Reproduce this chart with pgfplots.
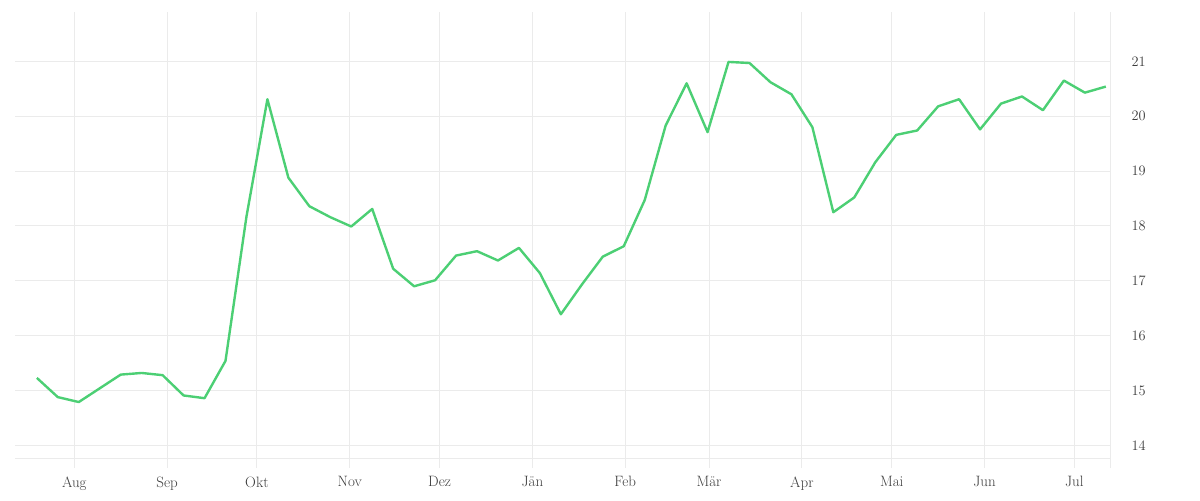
\documentclass[border=0pt]{standalone}
\usepackage{pgfplots}
\pgfplotsset{compat=1.18}

\definecolor{linegreen}{RGB}{76,207,116}
\definecolor{gridgray}{RGB}{235,235,235}
\definecolor{labelgray}{RGB}{60,60,60}

\begin{document}
\begin{tikzpicture}
\begin{axis}[
  scale only axis,
  width=1095pt, height=446pt,
  xmin=-19.8, xmax=345.9,
  ymin=13.77, ymax=21.9,
  axis x line*=bottom,
  axis y line*=right,
  axis line style={draw=gridgray, line width=1pt},
  y axis line style={shorten <=-10pt},
  xtick={0,31,61,92,122,153,184,212,243,273,304,334},
  xticklabels={Aug,Sep,Okt,Nov,Dez,Jän,Feb,Mär,Apr,Mai,Jun,Jul},
  ytick={14,15,16,17,18,19,20,21},
  xmajorgrids, ymajorgrids,
  major grid style={draw=gridgray, line width=1pt},
  x tick style={draw=gridgray, line width=1pt},
  y tick style={draw=none},
  tick align=outside,
  major tick length=10pt,
  ticklabel style={font=\fontsize{15}{17}\selectfont, text=labelgray},
  xticklabel style={yshift=-5pt},
  yticklabel style={xshift=8pt},
]
\addplot[linegreen, line width=2.4pt, line join=round] coordinates {
  (-12.5,15.23) (-5.5,14.88) (1.5,14.79) (8.5,15.04) (15.5,15.29)
  (22.5,15.32) (29.5,15.28) (36.5,14.91) (43.5,14.86) (50.5,15.54)
  (57.5,18.17) (64.5,20.31) (71.5,18.88) (78.5,18.36) (85.5,18.16)
  (92.5,17.99) (99.5,18.31) (106.5,17.22) (113.5,16.90) (120.5,17.01)
  (127.5,17.46) (134.5,17.54) (141.5,17.37) (148.5,17.60) (155.5,17.14)
  (162.5,16.39) (169.5,16.93) (176.5,17.44) (183.5,17.63) (190.5,18.47)
  (197.5,19.83) (204.5,20.60) (211.5,19.71) (218.5,20.99) (225.5,20.97)
  (232.5,20.62) (239.5,20.40) (246.5,19.80) (253.5,18.25) (260.5,18.52)
  (267.5,19.16) (274.5,19.66) (281.5,19.74) (288.5,20.18) (295.5,20.31)
  (302.5,19.76) (309.5,20.23) (316.5,20.36) (323.5,20.11) (330.5,20.65)
  (337.5,20.43) (344.5,20.54)
};
\end{axis}
\path ([xshift=-15pt,yshift=-42pt]current axis.south west) rectangle ([xshift=90pt,yshift=12pt]current axis.north east);
\end{tikzpicture}
\end{document}
